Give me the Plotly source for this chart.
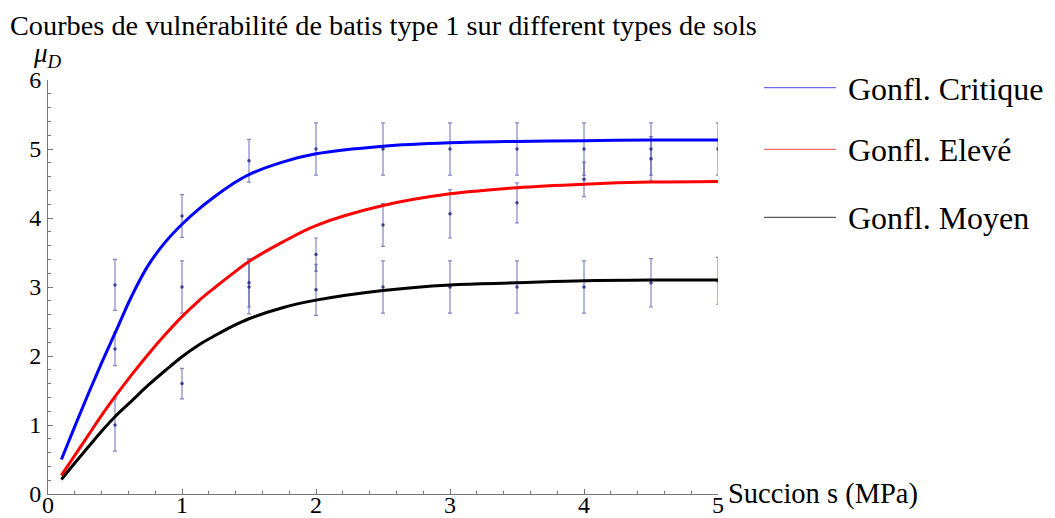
import plotly.graph_objects as go

# ---- data ----
curve_x = [0.1, 0.2, 0.3, 0.4, 0.5, 0.625, 0.75, 0.875, 1.0, 1.125, 1.25, 1.375, 1.5, 1.75, 2.0, 2.5, 3.0, 3.5, 4.0, 4.5, 5.0]
critique = [0.50, 0.98, 1.45, 1.90, 2.33, 2.87, 3.32, 3.65, 3.91, 4.13, 4.32, 4.49, 4.63, 4.81, 4.93, 5.04, 5.09, 5.11, 5.12, 5.13, 5.13]
eleve    = [0.27, 0.56, 0.85, 1.14, 1.41, 1.73, 2.03, 2.31, 2.57, 2.80, 3.00, 3.19, 3.37, 3.65, 3.89, 4.18, 4.35, 4.44, 4.49, 4.52, 4.53]
moyen    = [0.21, 0.45, 0.68, 0.91, 1.12, 1.35, 1.58, 1.79, 1.99, 2.16, 2.30, 2.43, 2.54, 2.70, 2.81, 2.95, 3.03, 3.06, 3.09, 3.10, 3.10]

obs_x = [0.5, 0.5, 0.5,
         1.0, 1.0, 1.0,
         1.5, 1.5, 1.5,
         2.0, 2.0, 2.0,
         2.5, 2.5, 2.5,
         3.0, 3.0, 3.0,
         3.5, 3.5, 3.5,
         4.0, 4.0, 4.0,
         4.5, 4.5, 4.5,
         5.0, 5.0]
obs_y = [3.03, 2.10, 1.00,
         4.03, 3.00, 1.60,
         4.83, 3.06, 3.00,
         5.00, 3.47, 2.96,
         5.00, 3.90, 3.00,
         5.00, 4.06, 3.00,
         5.00, 4.22, 3.00,
         5.00, 4.56, 3.00,
         5.00, 4.86, 3.06,
         5.00, 3.09]
obs_err = [0.37, 0.24, 0.38,
           0.31, 0.38, 0.22,
           0.31, 0.35, 0.39,
           0.38, 0.24, 0.37,
           0.38, 0.31, 0.38,
           0.38, 0.35, 0.38,
           0.38, 0.29, 0.38,
           0.38, 0.25, 0.38,
           0.38, 0.32, 0.35,
           0.38, 0.34]

series_names = ["Gonfl. Critique", "Gonfl. Elevé", "Gonfl. Moyen"]
series_vals = [critique, eleve, moyen]
series_colors = ["#0000ff", "#ff0000", "#000000"]
legend_colors = ["#6a6aff", "#ff7070", "#555555"]

x_ticks = [0, 1, 2, 3, 4, 5]
y_ticks = [0, 1, 2, 3, 4, 5, 6]

title_text = "Courbes de vulnérabilité de batis type 1 sur different types de sols"
x_label = "Succion s (MPa)"
y_label = "<i>μ</i><sub><i>D</i></sub>"

FONT = "Liberation Serif, Times New Roman, serif"

fig = go.Figure()

# error-bar observations
fig.add_trace(go.Scatter(
    x=obs_x, y=obs_y, mode="markers",
    marker=dict(size=3.5, color="rgba(40,40,130,0.85)"),
    error_y=dict(type="data", array=obs_err, visible=True,
                 color="rgba(50,50,160,0.6)", thickness=1.2, width=2),
    showlegend=False, hoverinfo="x+y",
))

for name, vals, col in zip(series_names, series_vals, series_colors):
    fig.add_trace(go.Scatter(
        x=curve_x, y=vals, mode="lines", name=name,
        line=dict(color=col, width=3, shape="spline", smoothing=1.0),
        showlegend=False,
    ))

# page body has an 8px default margin: lay out in target pixels minus that offset
OFF = 8
W, H = 1055 - OFF, 518 - OFF
L, R, T, B = 48 - OFF, 718 - OFF, 80 - OFF, 494 - OFF
PW, PH = R - L, B - T

def px(xp):
    return (xp - OFF - L) / PW

def py(yp):
    return (B - (yp - OFF)) / PH

shapes = []
annotations = []
leg_y = [87.7, 149.3, 217.3]
for name, col, yy in zip(series_names, legend_colors, leg_y):
    shapes.append(dict(type="line", xref="paper", yref="paper",
                       x0=px(764), x1=px(836), y0=py(yy), y1=py(yy),
                       line=dict(color=col, width=1.3)))
    annotations.append(dict(text=name, xref="paper", yref="paper",
                            x=px(846), y=py(yy + 1), xanchor="left", yanchor="middle",
                            showarrow=False, font=dict(family=FONT, size=32, color="black")))

annotations.append(dict(text=title_text, xref="paper", yref="paper",
                        x=px(8), y=py(25), xanchor="left", yanchor="middle",
                        showarrow=False, font=dict(family=FONT, size=28.3, color="black")))
annotations.append(dict(text=x_label, xref="paper", yref="paper",
                        x=px(726), y=py(494), xanchor="left", yanchor="middle",
                        showarrow=False, font=dict(family=FONT, size=28.5, color="black")))
annotations.append(dict(text=y_label, xref="paper", yref="paper",
                        x=px(47), y=py(55), xanchor="center", yanchor="middle",
                        showarrow=False, font=dict(family=FONT, size=27, color="black")))

axis_common = dict(
    showgrid=False, zeroline=False, showline=True, linecolor="#777777", linewidth=1,
    ticks="inside", ticklen=5, tickwidth=1, tickcolor="#777777",
    tickfont=dict(family=FONT, size=24, color="black"),
    minor=dict(ticks="inside", ticklen=3, tickwidth=1, tickcolor="#777777", dtick=0.2),
)

fig.update_layout(
    width=W, height=H,
    margin=dict(l=L, r=W - R, t=T, b=H - B, autoexpand=False),
    paper_bgcolor="white", plot_bgcolor="white",
    xaxis=dict(range=[0, 5], tickvals=x_ticks, ticklabelstandoff=-11, **axis_common),
    yaxis=dict(range=[0, 6], tickvals=y_ticks, ticklabelstandoff=1, **axis_common),
    shapes=shapes, annotations=annotations,
    showlegend=False,
)

fig.write_html("out.html")
